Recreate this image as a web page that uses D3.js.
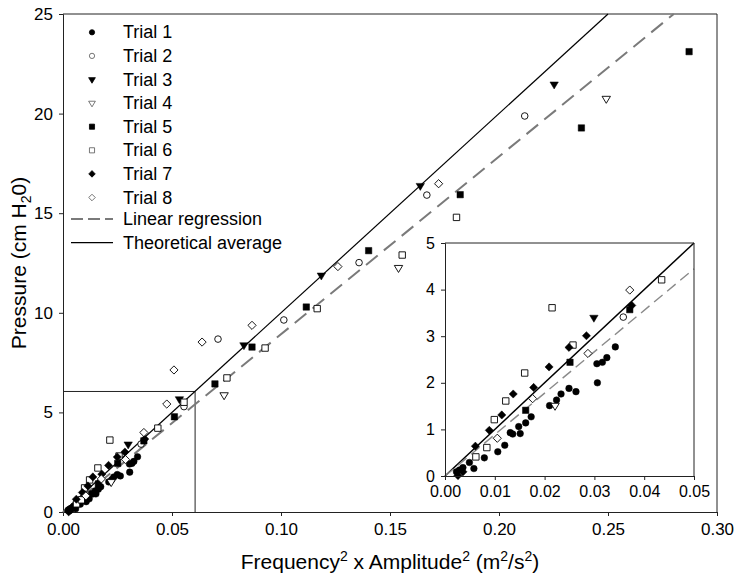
<!DOCTYPE html>
<html><head><meta charset="utf-8">
<script src="https://cdn.jsdelivr.net/npm/d3@7"></script>
<style>
body{margin:0;background:#fff}
text{font-family:"Liberation Sans",Arial,sans-serif;fill:#000}
</style>
</head><body>
<svg id="c" width="737" height="577"></svg>
<script>
// ---------- data ----------
const trialNames = ["Trial 1","Trial 2","Trial 3","Trial 4","Trial 5","Trial 6","Trial 7","Trial 8"];
const trial1 = [[0.0023,0.09],[0.0029,0.13],[0.0036,0.18],[0.0049,0.29],[0.0058,0.16],[0.0079,0.39],[0.0106,0.52],[0.0120,0.66],[0.0131,0.93],[0.0136,0.90],[0.0148,1.06],[0.0151,0.91],[0.0162,1.14],[0.0173,1.27],[0.0210,1.51],[0.0224,1.63],[0.0233,1.76],[0.0249,1.88],[0.0263,1.81],[0.0305,2.41],[0.0306,2.00],[0.0316,2.44],[0.0325,2.54],[0.0342,2.77]];
const trial2 = [[0.0358,3.41],[0.0555,5.29],[0.0711,8.68],[0.1013,9.64],[0.1358,12.52],[0.1669,15.91],[0.2118,19.88]];
const trial3 = [[0.0299,3.40],[0.0534,5.67],[0.0830,8.38],[0.1185,11.88],[0.1639,16.38],[0.2253,21.47]];
const trial4 = [[0.0221,1.51],[0.0739,5.87],[0.1539,12.26],[0.2492,20.75]];
const trial5 = [[0.0162,1.41],[0.0251,2.44],[0.0371,3.57],[0.0511,4.78],[0.0697,6.43],[0.0867,8.28],[0.1116,10.29],[0.1402,13.12],[0.1822,15.93],[0.2378,19.28],[0.2872,23.11]];
const trial6 = [[0.0062,0.41],[0.0084,0.61],[0.0099,1.21],[0.0122,1.61],[0.0160,2.21],[0.0215,3.61],[0.0257,2.81],[0.0435,4.21],[0.0555,5.51],[0.0752,6.73],[0.0927,8.23],[0.1166,10.21],[0.1556,12.90],[0.1805,14.79]];
const trial7 = [[0.0026,0.01],[0.0036,0.09],[0.0061,0.64],[0.0089,0.98],[0.0114,1.31],[0.0137,1.76],[0.0178,1.90],[0.0209,2.34],[0.0249,2.76],[0.0284,3.01],[0.0375,3.66]];
const trial8 = [[0.0105,0.81],[0.0176,1.66],[0.0287,2.63],[0.0371,3.99],[0.0476,5.42],[0.0509,7.13],[0.0638,8.53],[0.0867,9.37],[0.1261,12.32],[0.1723,16.48]];
const regressionLine = [0.0, 89.3, -0.02];   // [x0, slope, intercept]
const theoreticalLine = [0.0, 100, 0];
const zoomBox = [0.0606, 6.05];
const xTicksMain = [0,0.05,0.10,0.15,0.20,0.25,0.30];
const yTicksMain = [0,5,10,15,20,25];
const xTicksInset = [0,0.01,0.02,0.03,0.04,0.05];
const yTicksInset = [0,1,2,3,4,5];

// ---------- styling ----------
const markerTypes = [
  {shape:"circle", fill:true},{shape:"circle", fill:false},
  {shape:"tri", fill:true},{shape:"tri", fill:false},
  {shape:"square", fill:true},{shape:"square", fill:false},
  {shape:"diamond", fill:true},{shape:"diamond", fill:false}];
const trials = [trial1,trial2,trial3,trial4,trial5,trial6,trial7,trial8];

function markerPath(shape, s){
  if(shape==="circle"){ return d3.symbol(d3.symbolCircle, Math.PI*(3.3*s)*(3.3*s))(); }
  if(shape==="square"){ const h=3.2*s; return `M${-h},${-h}H${h}V${h}H${-h}Z`; }
  if(shape==="tri"){ const w=4.2*s, h=7*s; return `M${-w},${-h/3}L${w},${-h/3}L0,${2*h/3}Z`; }
  if(shape==="diamond"){ const r=4.1*s; return `M0,${-r}L${r},0L0,${r}L${-r},0Z`; }
}

const svg = d3.select("#c");
const AX = "#222";

// main
const M = {l:63, r:717, t:14, b:512};
const x = d3.scaleLinear().domain([0,0.30]).range([M.l,M.r]);
const y = d3.scaleLinear().domain([0,25]).range([M.b,M.t]);

const fmt2 = d3.format(".2f");
const gx = svg.append("g").attr("transform",`translate(0,${M.b})`)
  .call(d3.axisBottom(x).tickValues(xTicksMain).tickFormat(fmt2).tickSizeOuter(0).tickSize(4).tickPadding(7));
const gy = svg.append("g").attr("transform",`translate(${M.l},0)`)
  .call(d3.axisLeft(y).tickValues(yTicksMain).tickFormat(d3.format("d")).tickSizeOuter(0).tickSize(4).tickPadding(6));
[gx,gy].forEach(g=>{g.selectAll("text").style("font-size","17px").attr("fill","#000");
  g.selectAll("line,path").attr("stroke",AX);});
// top/right border
svg.append("path").attr("d",`M${M.l},${M.t}H${M.r}V${M.b}`).attr("fill","none").attr("stroke",AX);

// zoom rectangle
svg.append("path").attr("d",`M${x(0)},${y(zoomBox[1])}H${x(zoomBox[0])}V${y(0)}`)
  .attr("fill","none").attr("stroke",AX).attr("stroke-width",1);

function lineEnd(L, ymax, xmax){ const xe = Math.min((ymax - L[2])/L[1], xmax); return [[L[0], L[0]*L[1]+L[2]],[xe, xe*L[1]+L[2]]]; }
const ln = (sx,sy)=>d3.line().x(d=>sx(Math.max(d[0],0))).y(d=>sy(Math.max(d[1],0)));

svg.append("path").attr("d", ln(x,y)(lineEnd(theoreticalLine,25,0.30)))
  .attr("stroke","#000").attr("stroke-width",1.2).attr("fill","none");
svg.append("path").attr("d", ln(x,y)(lineEnd(regressionLine,25,0.30)))
  .attr("stroke","#7a7a7a").attr("stroke-width",2).attr("stroke-dasharray","15,8").attr("fill","none");

function drawPoints(g, sx, sy, filter){
  trials.forEach((arr,i)=>{
    const mt = markerTypes[i];
    g.selectAll(null).data(arr.filter(filter)).join("path")
      .attr("d", markerPath(mt.shape,1))
      .attr("transform", d=>`translate(${sx(d[0])},${sy(d[1])})`)
      .attr("fill", mt.fill ? "#000" : "#fff")
      .attr("stroke", "#000").attr("stroke-width", mt.fill?0.5:0.9);
  });
}
drawPoints(svg.append("g"), x, y, d=>true);

// axis titles
svg.append("text").attr("x",(M.l+M.r)/2).attr("y",569).attr("text-anchor","middle").style("font-size","21px")
  .html('Frequency<tspan dy="-8" font-size="14px">2</tspan><tspan dy="8"> x Amplitude</tspan><tspan dy="-8" font-size="14px">2</tspan><tspan dy="8"> (m</tspan><tspan dy="-8" font-size="14px">2</tspan><tspan dy="8">/s</tspan><tspan dy="-8" font-size="14px">2</tspan><tspan dy="8">)</tspan>');
svg.append("text").attr("transform",`translate(26,${(M.t+M.b)/2}) rotate(-90)`).attr("text-anchor","middle").style("font-size","21px")
  .html('Pressure (cm H<tspan dy="5" font-size="14px">2</tspan><tspan dy="-5">0)</tspan>');

// legend
const legX = 92, legTx = 123, legY0 = 32.3, legDy = 23.6;
trialNames.forEach((nm,i)=>{
  const cy = legY0 + i*legDy, mt = markerTypes[i];
  svg.append("path").attr("d", markerPath(mt.shape,0.8)).attr("transform",`translate(${legX},${cy})`)
    .attr("fill", mt.fill?"#000":"#fff").attr("stroke", mt.fill?"#000":"#555").attr("stroke-width",0.8);
  svg.append("text").attr("x",legTx).attr("y",cy+6).style("font-size","18px").text(nm);
});
const lr = legY0 + 8*legDy - 2, lt = legY0 + 9*legDy - 2;
svg.append("line").attr("x1",71).attr("x2",113).attr("y1",lr).attr("y2",lr).attr("stroke","#7a7a7a").attr("stroke-width",2).attr("stroke-dasharray","12,5");
svg.append("text").attr("x",legTx).attr("y",lr+6).style("font-size","18px").text("Linear regression");
svg.append("line").attr("x1",71).attr("x2",113).attr("y1",lt).attr("y2",lt).attr("stroke","#000").attr("stroke-width",1.3);
svg.append("text").attr("x",legTx).attr("y",lt+6).style("font-size","18px").text("Theoretical average");

// ---------- inset ----------
const I = {l:445, r:694, t:243, b:476};
const xi = d3.scaleLinear().domain([0,0.05]).range([I.l,I.r]);
const yi = d3.scaleLinear().domain([0,5]).range([I.b,I.t]);
svg.append("rect").attr("x",I.l).attr("y",I.t).attr("width",I.r-I.l).attr("height",I.b-I.t).attr("fill","#fff");
svg.append("path").attr("d", ln(xi,yi)(lineEnd(theoreticalLine,5,0.05)))
  .attr("stroke","#000").attr("stroke-width",1.5).attr("fill","none");
svg.append("path").attr("d", ln(xi,yi)(lineEnd(regressionLine,5,0.05)))
  .attr("stroke","#8a8a8a").attr("stroke-width",1.4).attr("stroke-dasharray","11,6").attr("fill","none");
drawPoints(svg.append("g"), xi, yi, d=>d[0]<=0.05 && d[1]<=5);
const gxi = svg.append("g").attr("transform",`translate(0,${I.b})`)
  .call(d3.axisBottom(xi).tickValues(xTicksInset).tickFormat(fmt2).tickSizeOuter(0).tickSize(4).tickPadding(6));
const gyi = svg.append("g").attr("transform",`translate(${I.l},0)`)
  .call(d3.axisLeft(yi).tickValues(yTicksInset).tickFormat(d3.format("d")).tickSizeOuter(0).tickSize(4).tickPadding(6));
[gxi,gyi].forEach(g=>{g.selectAll("text").style("font-size","16px").attr("fill","#000");
  g.selectAll("line,path").attr("stroke",AX);});
svg.append("path").attr("d",`M${I.l},${I.t}H${I.r}V${I.b}`).attr("fill","none").attr("stroke",AX);
</script>
</body></html>
